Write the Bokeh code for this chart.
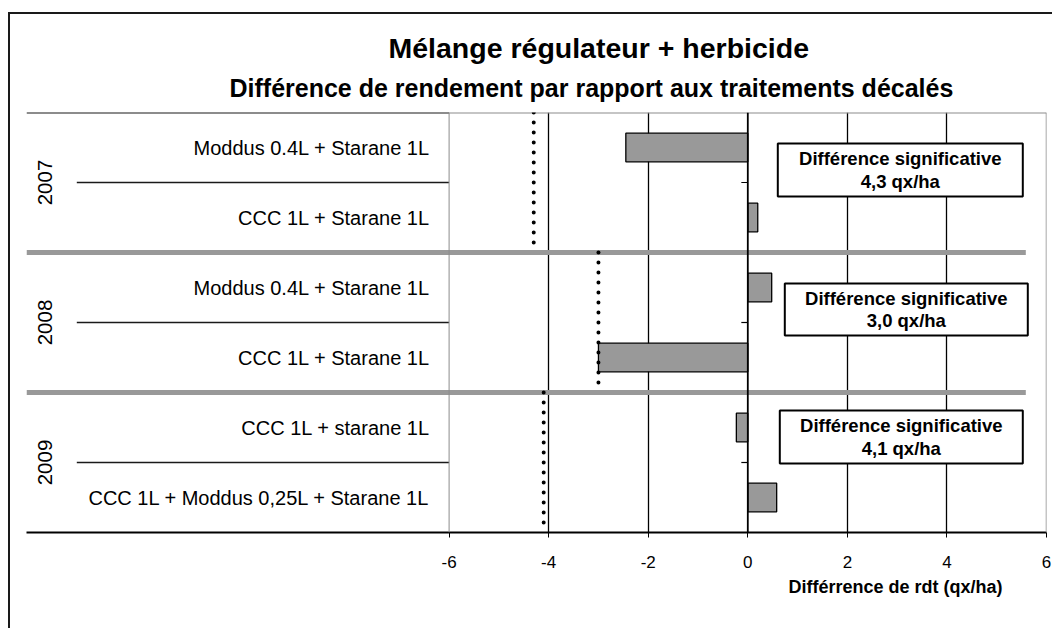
import math
from bokeh.plotting import figure
from bokeh.models import Range1d, FixedTicker, Title, Span, ColumnDataSource
from bokeh.core.properties import value
from bokeh.embed import file_html
from bokeh.resources import INLINE

# ---------------- data ----------------
years = ["2007", "2008", "2009"]
treatments = [
    "Moddus 0.4L + Starane 1L",
    "CCC 1L + Starane 1L",
    "Moddus 0.4L + Starane 1L",
    "CCC 1L + Starane 1L",
    "CCC 1L + starane 1L",
    "CCC 1L + Moddus 0,25L + Starane 1L",
]
treatment_year = ["2007", "2007", "2008", "2008", "2009", "2009"]
yield_diff = [-2.45, 0.2, 0.48, -3.0, -0.23, 0.58]
signif_diff = [4.3, 3.0, 4.1]
signif_text = [
    "Différence significative\n4,3 qx/ha",
    "Différence significative\n3,0 qx/ha",
    "Différence significative\n4,1 qx/ha",
]
x_ticks = [-6, -4, -2, 0, 2, 4, 6]
x_tick_labels = ["-6", "-4", "-2", "0", "2", "4", "6"]
grid_ticks = [-4, -2, 2, 4]
title_line1 = "Mélange régulateur + herbicide"
title_line2 = "Différence de rendement par rapport aux traitements décalés"
x_title = "Différrence de rdt (qx/ha)"

# ---------------- layout ----------------
FONT = "Liberation Sans"
ORIGIN_X, ORIGIN_Y = 10, 14          # page position of the canvas
W, H = 1044, 616
FRAME_LEFT = 26 - ORIGIN_X
FRAME_RIGHT_PAD = 8
FRAME_TOP = 112 - ORIGIN_Y
FRAME_BOTTOM = 532 - ORIGIN_Y
XMIN, XMAX = -6, 6
PX_UNIT = (1046 - 448.6) / (XMAX - XMIN)
frame_w = W - FRAME_LEFT - FRAME_RIGHT_PAD
x_start = XMAX - frame_w / PX_UNIT
ROW_PX = (FRAME_BOTTOM - FRAME_TOP) / len(treatments)


def px_x(page_x):
    return (page_x - 748) / PX_UNIT


def px_y(page_y):
    return (page_y - 112) / ROW_PX


n_rows = len(treatments)
row_y = [i + 0.5 for i in range(n_rows)]

p = figure(
    width=W, height=H,
    x_range=Range1d(x_start, XMAX), y_range=Range1d(n_rows, 0),
    output_backend="svg", toolbar_location=None,
    y_axis_location=None,
    min_border_left=FRAME_LEFT, min_border_right=FRAME_RIGHT_PAD,
    min_border_top=FRAME_TOP, min_border_bottom=H - FRAME_BOTTOM,
    background_fill_color="white", border_fill_color="white",
    outline_line_color=None,
    styles={"border-top": "2px solid #1a1a1a", "border-left": "2px solid #1a1a1a"},
)
p.margin = (12, 0, 0, 8)

# titles (first added is closest to the frame)
p.add_layout(Title(text=title_line2, align="left", offset=229 - 26,
                   vertical_align="top",
                   text_font=FONT, text_font_size="25px", text_font_style="bold",
                   text_color="black", standoff=17), "above")
p.add_layout(Title(text=title_line1, align="left", offset=388 - 26,
                   vertical_align="top",
                   text_font=FONT, text_font_size="28.5px", text_font_style="bold",
                   text_color="black", standoff=-1), "above")

# x axis
ax = p.xaxis[0]
ax.ticker = FixedTicker(ticks=x_ticks)
ax.major_label_overrides = {t: s for t, s in zip(x_ticks, x_tick_labels)}
ax.axis_line_color = "black"
ax.axis_line_width = 2
ax.major_tick_line_color = "black"
ax.major_tick_out = 5
ax.major_tick_in = 0
ax.minor_tick_line_color = None
ax.major_label_text_font = FONT
ax.major_label_text_font_size = "17px"
ax.major_label_text_color = "black"
ax.major_label_standoff = 18

# x axis title, below the axis, right part
p.add_layout(Title(text=x_title, align="left", offset=788 - 26,
                   text_font=FONT, text_font_size="18px", text_font_style="bold",
                   text_color="black", standoff=8), "below")

p.xgrid.ticker = FixedTicker(ticks=grid_ticks)
p.xgrid.grid_line_color = "black"
p.xgrid.grid_line_width = 1.3
p.ygrid.grid_line_color = None

# plot-area borders and zero axis
p.add_layout(Span(location=0, dimension="height", line_color="black", line_width=1.8))
p.add_layout(Span(location=XMIN, dimension="height", line_color="#8c8c8c", line_width=1))
p.add_layout(Span(location=XMAX, dimension="height", line_color="#8c8c8c", line_width=1.5))
p.segment(x0=[x_start], x1=[XMIN], y0=[0], y1=[0], line_color="#1a1a1a", line_width=2)
p.segment(x0=[XMIN], x1=[XMAX], y0=[0], y1=[0], line_color="#8c8c8c", line_width=2)

# category separators within groups
sep_in = [2 * g + 1 for g in range(len(years))]
x_cat_line = px_x(77)
p.segment(x0=[x_cat_line] * len(sep_in), x1=[XMIN] * len(sep_in), y0=sep_in, y1=sep_in,
          line_color="#1a1a1a", line_width=1.6)
# small category ticks on zero axis
p.segment(x0=[-0.13] * len(sep_in), x1=[0] * len(sep_in), y0=sep_in, y1=sep_in,
          line_color="black", line_width=1.2)

# bars
src = ColumnDataSource(dict(y=row_y, right=yield_diff, left=[0] * n_rows))
p.hbar(y="y", left="left", right="right", height=0.41, source=src,
       fill_color="#999999", line_color="black", line_width=1.3)

# group separators (thick grey)
sep_grp = [2 * g for g in range(1, len(years))]
x_sep_end = px_x(1026)
p.segment(x0=[x_start] * len(sep_grp), x1=[x_sep_end] * len(sep_grp), y0=sep_grp, y1=sep_grp,
          line_color="#999999", line_width=5)

# significance thresholds (dotted)
p.segment(x0=[-s for s in signif_diff], x1=[-s for s in signif_diff],
          y0=[2 * g for g in range(len(years))], y1=[2 * g + 2 for g in range(len(years))],
          line_color="black", line_width=4, line_dash="0 10", line_cap="round")

# annotation boxes
box_l = [px_x(778), px_x(785), px_x(780)]
box_r = [px_x(1023), px_x(1028), px_x(1023)]
box_t = [px_y(143), px_y(283), px_y(410)]
box_b = [px_y(196), px_y(335), px_y(463)]
p.quad(left=box_l, right=box_r, top=box_t, bottom=box_b,
       fill_color="white", line_color="black", line_width=2)
p.text(x=[(l + r) / 2 for l, r in zip(box_l, box_r)],
       y=[(t + b) / 2 for t, b in zip(box_t, box_b)],
       text=signif_text, text_align="center", text_baseline="middle",
       text_font=value(FONT), text_font_size="18.5px", text_font_style="bold",
       text_color="black", text_line_height=1.05)

# category labels
p.text(x=[px_x(430)] * n_rows, y=row_y, text=treatments,
       text_align="right", text_baseline="middle",
       text_font=value(FONT), text_font_size="20px", text_color="black")

# year labels (vertical)
p.text(x=[px_x(45)] * len(years), y=[2 * g + 1 for g in range(len(years))],
       text=years, angle=math.pi / 2, text_align="center", text_baseline="middle",
       text_font=value(FONT), text_font_size="20.5px", text_color="black")

open("out.html", "w").write(file_html(p, INLINE))
